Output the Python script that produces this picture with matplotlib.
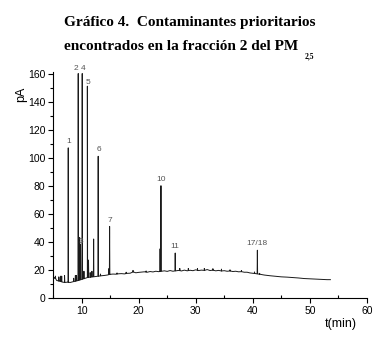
import numpy as np
import matplotlib
matplotlib.use('Agg')
import matplotlib.pyplot as plt
from matplotlib.ticker import MultipleLocator

# baseline of the chromatogram (time in min, signal in pA)
base_t = [5.0, 5.3, 5.6, 6.0, 6.3, 6.6, 7.0, 7.5, 8.0, 8.5, 9.0, 9.5, 10.0, 10.5,
          11.0, 11.5, 12.0, 12.5, 13.0, 13.5, 14.0, 14.5, 15.0, 15.5, 16.0, 16.5,
          17.0, 17.5, 18.0, 18.5, 19.0, 19.5, 20.0, 20.5, 21.0, 21.5, 22.0, 22.5,
          23.0, 23.5, 24.5, 25.0, 25.5, 26.0, 27.0, 27.5, 28.0, 28.5, 29.0, 29.5,
          30.0, 30.5, 31.0, 31.5, 32.0, 32.5, 33.0, 33.5, 34.0, 34.5, 35.0, 35.5,
          36.0, 36.5, 37.0, 37.5, 38.0, 38.5, 39.0, 39.5, 40.0, 41.0, 42.0, 43.0,
          44.0, 45.0, 46.0, 47.0, 48.0, 49.0, 50.0, 51.0, 52.0, 53.0, 53.6]
base_y = [13.5, 14.5, 12.5, 12.0, 11.8, 11.3, 11.0, 11.2, 11.0, 11.5, 12.0, 12.5,
          13.2, 13.8, 14.5, 14.8, 15.0, 15.3, 15.5, 15.8, 16.0, 16.3, 16.8, 17.0,
          16.9, 17.2, 17.3, 17.1, 17.5, 17.6, 18.5, 17.9, 18.2, 18.4, 18.6, 18.3,
          18.8, 18.5, 19.0, 18.7, 19.3, 18.9, 19.5, 19.0, 19.6, 19.2, 19.8, 19.3,
          19.7, 19.4, 20.0, 19.5, 19.8, 19.6, 20.2, 19.5, 19.8, 19.3, 19.6, 19.2,
          19.4, 19.0, 19.2, 18.8, 19.0, 18.6, 18.7, 18.3, 18.3, 17.8, 17.6, 17.0,
          16.3, 15.8, 15.4, 15.0, 14.8, 14.5, 14.2, 13.8, 13.6, 13.4, 13.2, 13.0, 13.0]

# peaks: retention time, height
peak_t = [5.4, 6.0, 6.3, 6.5, 7.0, 7.65, 8.6, 8.9, 9.1, 9.4, 9.65, 9.8, 10.1,
          10.4, 11.0, 11.2, 11.5, 11.8, 12.1, 12.9, 13.3, 14.8, 14.9, 16.2,
          17.8, 19.0, 21.3, 23.75, 23.9, 26.4, 27.2, 28.7, 30.3, 31.5, 33.0,
          34.5, 36.0, 38.0, 40.3, 40.8, 41.2]
peak_h = [15.5, 15.0, 15.5, 15.5, 16.0, 107, 14.0, 16.0, 16.0, 160, 43, 38, 160,
          19, 151, 27, 18, 19, 42, 101, 17, 21, 51, 17.8,
          18.3, 19.6, 19.2, 35, 80, 32, 21, 21, 21, 21, 20.8,
          20.5, 20.0, 19.5, 18.5, 34, 17.5]

labels = ['1', '2 4', '3', '5', '6', '7', '10', '11', '17/18']
label_t = [7.65, 9.75, 9.8, 11.1, 13.0, 15.0, 23.9, 26.4, 40.8]
label_y = [109, 161, 38, 151, 103, 53, 82, 34, 36]

# build trace: baseline with the peaks inserted as spikes
t = list(base_t)
y = list(base_y)
for pt, ph in zip(peak_t, peak_h):
    b = np.interp(pt, base_t, base_y)
    t += [pt - 0.04, pt, pt + 0.04]
    y += [b, ph, b]
order = np.argsort(t, kind='stable')
t = np.array(t)[order]
y = np.array(y)[order]

plt.rcParams['font.family'] = ['Liberation Sans', 'DejaVu Sans']

fig = plt.figure(figsize=(3.85, 3.42), dpi=100)
ax = fig.add_axes([0.138, 0.129, 0.815, 0.66])
ax.plot(t, y, color='#1a1a1a', linewidth=0.7)

for lab, lt, ly in zip(labels, label_t, label_y):
    ax.text(lt, ly, lab, fontsize=6, color='#555555', ha='center', va='bottom')

ax.set_xlim(5, 60)
ax.set_ylim(0, 161)
ax.xaxis.set_major_locator(MultipleLocator(10))
ax.xaxis.set_minor_locator(MultipleLocator(5))
ax.yaxis.set_major_locator(MultipleLocator(20))
ax.yaxis.set_minor_locator(MultipleLocator(10))
ax.tick_params(which='major', length=3.5, width=0.8, labelsize=7.5, pad=2)
ax.tick_params(axis='x', which='minor', direction='in', length=2.5, width=0.8)
ax.tick_params(axis='y', which='minor', direction='out', length=2, width=0.8)
for s in ['top', 'right']:
    ax.spines[s].set_visible(False)

fig.text(0.055, 0.725, 'pA', fontsize=9, rotation=90, ha='center', va='center')
fig.text(0.885, 0.045, 't(min)', fontsize=9, ha='center')

fig.text(0.165, 0.925, 'Gráfico 4.  Contaminantes prioritarios',
         fontsize=11, fontweight='bold', family='Liberation Serif', ha='left')
fig.text(0.165, 0.855, 'encontrados en la fracción 2 del PM',
         fontsize=11, fontweight='bold', family='Liberation Serif', ha='left')
fig.text(0.79, 0.828, '2,5', fontsize=5.5, fontweight='bold',
         family='Liberation Serif', ha='left')

fig.savefig('out.png', dpi=100)
